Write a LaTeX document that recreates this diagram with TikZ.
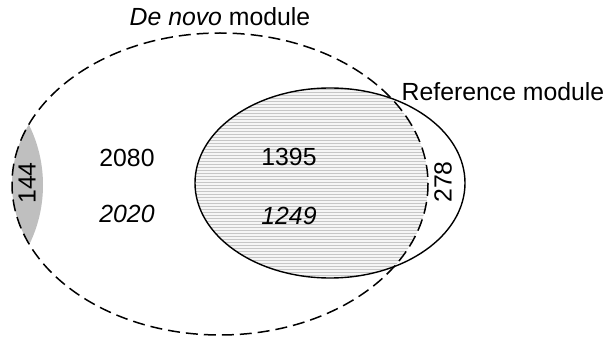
\documentclass[tikz,border=0pt]{standalone}
\usepackage{fontspec}
\setmainfont{Liberation Sans}
\usetikzlibrary{patterns}
\begin{document}
\begin{tikzpicture}[x=1pt,y=-1pt,
  lbl/.style={font=\fontsize{24.8}{29}\selectfont, inner sep=0pt},
  denovo/.style={draw=black, line width=1.5pt, dash pattern=on 12pt off 6pt},
  refmod/.style={draw=black, line width=1.4pt}]
\useasboundingbox (0,0) rectangle (610,339);
% shaded lens on the left edge of the de novo module
\begin{scope}
  \clip (220,184) ellipse [x radius=208, y radius=151];
  \fill[gray!50] (-92.6,185) circle [radius=135.6];
\end{scope}
% overlap of the two modules, hatched
\begin{scope}
  \clip (220,184) ellipse [x radius=208, y radius=151];
  \fill[gray!8] (330,183) ellipse [x radius=135, y radius=95];
  \fill[pattern=horizontal lines, pattern color=gray!45] (330,183) ellipse [x radius=135, y radius=95];
\end{scope}
% module outlines
\draw[refmod] (330,183) ellipse [x radius=135, y radius=95];
\draw[denovo] (220,184) ellipse [x radius=208, y radius=151];
% labels
\node[lbl] (tdn) at (220,17) {\textit{De novo} module};
\node[lbl] (tref) at (503,92) {Reference module};
\node[lbl] (a1) at (127,158) {2080};
\node[lbl] (a2) at (127,214) {\textit{2020}};
\node[lbl] (b1) at (289,157) {1395};
\node[lbl] (b2) at (289,216) {\textit{1249}};
\node[lbl, rotate=90] (c) at (27,183) {144};
\node[lbl, rotate=90] (d) at (443,182) {278};
\end{tikzpicture}
\end{document}
